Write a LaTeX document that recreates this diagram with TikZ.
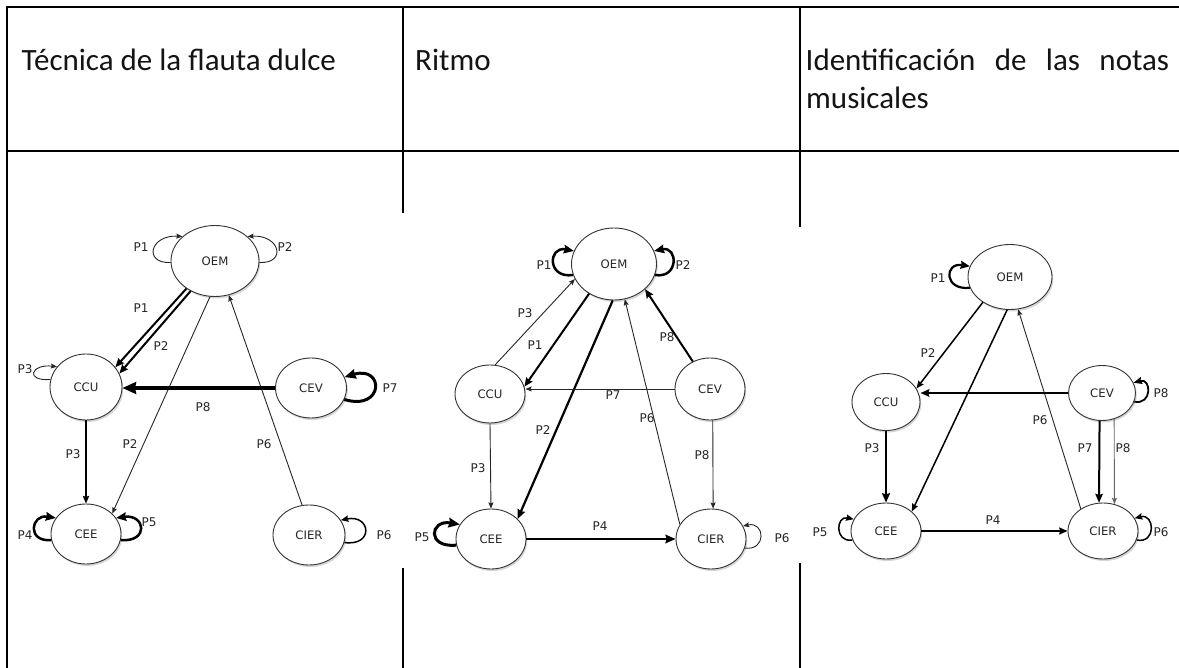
\documentclass[tikz,border=0pt]{standalone}
\usepackage{fontspec}
\setmainfont{Carlito}
\newfontfamily\gfont{DejaVu Sans}
\usetikzlibrary{arrows.meta,shapes.geometric,shadows}

\begin{document}
\begin{tikzpicture}[x=1pt,y=1pt,
  rule/.style={line width=2pt,draw=black},
  hd/.style={inner sep=0pt,font=\fontsize{31}{37}\selectfont,text=black!92},
  st/.style={ellipse,draw=black!80,line width=0.9pt,fill=white,inner sep=0pt,
    font=\gfont\fontsize{11.7}{13}\selectfont,text=black!85,
    drop shadow={shadow xshift=1.3pt,shadow yshift=-2pt,opacity=.35,fill=black!45}},
  lab/.style={inner sep=0pt,font=\gfont\fontsize{12}{14}\selectfont,text=black!85},
  ed/.style={draw=black,line width=#1,
    -{Stealth[length=4pt 2.4,width=3pt 2.2,inset=1pt]}},
  ed/.default=1pt,
  thinedge/.style={ed=0.9pt,draw=black!85},
]
\useasboundingbox (0,0) rectangle (1179,-668);
\fill[white] (0,0) rectangle (1179,-668);

% table rules
\draw[rule] (7,-7.5) -- (1179,-7.5);
\draw[rule] (7,-150.7) -- (1179,-150.7);
\draw[rule] (7,-6.5) -- (7,-668);
\draw[rule] (403,-6.5) -- (403,-213);
\draw[rule] (403,-568) -- (403,-668);
\draw[rule] (800,-6.5) -- (800,-227);
\draw[rule] (800,-563) -- (800,-668);

% header row
\node[hd,anchor=base west] (h1) at (21.5,-70.7) {Técnica de la flauta dulce};
\node[hd,anchor=base west] (h2) at (415,-70.7) {Ritmo};
\node[hd,anchor=base west] (h3) at (805.5,-70.7) {\makebox[363.5pt][s]{Identificación de las notas}};
\node[hd,anchor=base west] (h3b) at (806,-108.7) {musicales};

% ---------- first graph ----------
\node[st,minimum width=88,minimum height=71] (aOEM) at (215,-261) {OEM};
\node[st,minimum width=72,minimum height=66] (aCCU) at (86,-387) {CCU};
\node[st,minimum width=71,minimum height=60] (aCEV) at (311,-388) {CEV};
\node[st,minimum width=70,minimum height=60] (aCEE) at (86,-534) {CEE};
\node[st,minimum width=72,minimum height=60] (aCIER) at (309,-535) {CIER};

\draw[ed=2pt] (aOEM.224) -- (aCCU.34);
\draw[ed=2pt] (aOEM.231) -- (aCCU.22);
\draw[thinedge] (aOEM.262) -- (aCEE.38);
\draw[thinedge] (aCIER.103) -- (aOEM.292);
\draw[ed=4pt] (aCEV.west) -- (aCEV.west -| aCCU.east);
\draw[ed=1.5pt] (aCCU.south) -- (aCEE.north);

\draw[thinedge] (aOEM.182) .. controls +(-28,-1) and +(-32,2) .. (aOEM.143);
\draw[thinedge] (aOEM.358) .. controls +(28,-1) and +(32,2) .. (aOEM.37);
\draw[thinedge] (aCCU.168) .. controls +(-26,-2) and +(-26,3) .. (aCCU.145);
\draw[ed=3pt] (aCEV.341) .. controls +(40,-12) and +(40,12) .. (aCEV.18);
\draw[ed=2.5pt] (aCEE.190) .. controls +(-25,-2) and +(-25,4) .. (aCEE.152);
\draw[ed=2.5pt] (aCEE.350) .. controls +(29,-2) and +(29,4) .. (aCEE.28);
\draw[ed=1.5pt] (aCIER.348) .. controls +(30,-4) and +(30,6) .. (aCIER.25);

\node[lab] (a1) at (141,-247) {P1};
\node[lab] (a2) at (285,-247) {P2};
\node[lab] (a3) at (141,-308) {P1};
\node[lab] (a4) at (161,-346) {P2};
\node[lab] (a5) at (25,-369) {P3};
\node[lab] (a6) at (390,-388) {P7};
\node[lab] (a7) at (203,-407) {P8};
\node[lab] (a8) at (130,-444) {P2};
\node[lab] (a9) at (264,-444) {P6};
\node[lab] (a10) at (73,-454) {P3};
\node[lab] (a11) at (25,-535) {P4};
\node[lab] (a12) at (149,-522) {P5};
\node[lab] (a13) at (384,-535) {P6};

% ---------- second graph ----------
\node[st,minimum width=85,minimum height=72] (bOEM) at (614,-264) {OEM};
\node[st,minimum width=70,minimum height=58] (bCCU) at (490,-394) {CCU};
\node[st,minimum width=70,minimum height=62] (bCEV) at (710,-389) {CEV};
\node[st,minimum width=70,minimum height=60] (bCEE) at (491,-539) {CEE};
\node[st,minimum width=70,minimum height=60] (bCIER) at (711,-539) {CIER};

\draw[thinedge] (bCCU.80) -- (bOEM.201);
\draw[ed=2pt] (bOEM.230) -- (bCCU.12);
\draw[ed=2.2pt] (bOEM.268) -- (bCEE.37);
\draw[thinedge] (bCIER.155) -- (bOEM.287);
\draw[ed=2pt] (bCEV.122) -- (bOEM.321);
\draw[thinedge] (bCEV.west) -- (bCEV.west -| bCCU.east);
\draw[thinedge] (bCEV.275) -- (bCIER.86);
\draw[thinedge] (bCCU.south) -- (bCEE.north);
\draw[ed=2.5pt] (bCEE.east) -- (bCIER.west);

\draw[ed=2.5pt] (bOEM.195) .. controls +(-26,-4) and +(-26,5) .. (bOEM.162);
\draw[ed=2.5pt] (bOEM.345) .. controls +(24,-4) and +(24,5) .. (bOEM.18);
\draw[ed=3pt] (bCEE.190) .. controls +(-30,-3) and +(-30,5) .. (bCEE.155);
\draw[thinedge] (bCIER.345) .. controls +(22,-3) and +(22,5) .. (bCIER.22);

\node[lab] (b1) at (544,-265) {P1};
\node[lab] (b2) at (683,-265) {P2};
\node[lab] (b3) at (525,-313) {P3};
\node[lab] (b4) at (535,-345) {P1};
\node[lab] (b5) at (667,-337) {P8};
\node[lab] (b6) at (613,-395) {P7};
\node[lab] (b7) at (647,-418) {P6};
\node[lab] (b8) at (543,-430) {P2};
\node[lab] (b9) at (702,-455) {P8};
\node[lab] (b10) at (478,-468) {P3};
\node[lab] (b11) at (422,-537) {P5};
\node[lab] (b12) at (600,-526) {P4};
\node[lab] (b13) at (782,-538) {P6};

% ---------- third graph ----------
\node[st,minimum width=84,minimum height=65] (cOEM) at (1010,-277) {OEM};
\node[st,minimum width=68,minimum height=57] (cCCU) at (886,-402) {CCU};
\node[st,minimum width=67,minimum height=55] (cCEV) at (1102,-393) {CEV};
\node[st,minimum width=70,minimum height=56] (cCEE) at (886,-531) {CEE};
\node[st,minimum width=70,minimum height=56] (cCIER) at (1103,-531) {CIER};

\draw[ed=1.5pt] (cOEM.223) -- (cCCU.24);
\draw[ed=1.5pt] (cOEM.265) -- (cCEE.37);
\draw[thinedge] (cCIER.135) -- (cOEM.284);
\draw[ed=2pt] (cCEV.west) -- (cCEV.west -| cCCU.east);
\draw[ed=2pt] (cCEV.265) -- (cCIER.98);
\draw[thinedge,draw=black!60] (cCEV.295) -- (cCIER.67);
\draw[ed=2.2pt] (cCCU.south) -- (cCEE.north);
\draw[ed=1.8pt] (cCEE.east) -- (cCIER.west);

\draw[ed=2.2pt] (cOEM.195) .. controls +(-26,-3) and +(-26,4) .. (cOEM.165);
\draw[ed=1.8pt] (cCEV.345) .. controls +(18,-4) and +(18,5) .. (cCEV.18);
\draw[ed=1.5pt] (cCEE.195) .. controls +(-18,-3) and +(-18,4) .. (cCEE.160);
\draw[ed=1.5pt] (cCIER.345) .. controls +(20,-4) and +(20,5) .. (cCIER.22);

\node[lab] (c1) at (938,-278) {P1};
\node[lab] (c2) at (928,-353) {P2};
\node[lab] (c3) at (1161,-393) {P8};
\node[lab] (c4) at (1040,-420) {P6};
\node[lab] (c5) at (1085,-448) {P7};
\node[lab] (c6) at (1123,-448) {P8};
\node[lab] (c7) at (872,-448) {P3};
\node[lab] (c8) at (820,-532) {P5};
\node[lab] (c9) at (993,-520) {P4};
\node[lab] (c10) at (1161,-532) {P6};
\end{tikzpicture}
\end{document}
